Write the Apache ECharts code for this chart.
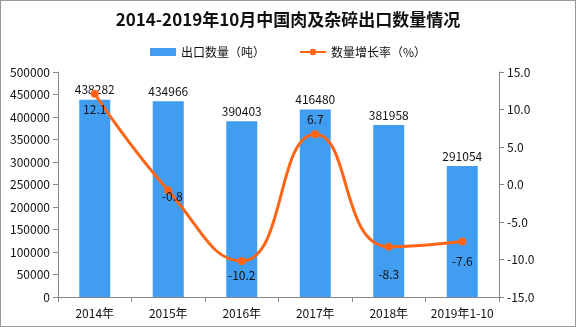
<!DOCTYPE html>
<html><head><meta charset="utf-8">
<script src="https://cdn.jsdelivr.net/npm/echarts@6/dist/echarts.min.js"></script>
<style>
html,body{margin:0;padding:0;background:#fff;}
#c{width:574px;height:325px;border:1px solid #999;}
</style></head>
<body><div id="c"></div>
<script>
const categories = ['2014年','2015年','2016年','2017年','2018年','2019年1-10'];
const exportQty = [438282, 434966, 390403, 416480, 381958, 291054];
const growthRate = [12.1, -0.8, -10.2, 6.7, -8.3, -7.6];
const labelPlacement = [
  {position:'bottom', distance:6},
  {position:'inside', offset:[4,6]},
  {position:'bottom', distance:4},
  {position:'top', distance:5},
  {position:'bottom', distance:18},
  {position:'bottom', distance:10}
];
const font = '"Noto Sans CJK SC", sans-serif';
const chart = echarts.init(document.getElementById('c'));
chart.setOption({
  animation:false,
  textStyle:{fontFamily:font},
  title:{text:'2014-2019年10月中国肉及杂碎出口数量情况', left:'center', top:5,
    textStyle:{fontSize:17, fontWeight:'bold', color:'#111', fontFamily:font}},
  legend:{top:40, left:'center', itemGap:34, itemWidth:26, itemHeight:8,
    textStyle:{fontSize:12, color:'#111'},
    data:[{name:'出口数量（吨）', icon:'rect'}, {name:'数量增长率（%）'}]},
  grid:{left:57, right:76, top:71, bottom:29},
  xAxis:{type:'category', data:categories,
    axisLine:{lineStyle:{color:'#888'}},
    axisTick:{show:true, alignWithLabel:false, lineStyle:{color:'#888'}},
    axisLabel:{color:'#111', fontSize:12, margin:10, interval:0}},
  yAxis:[
    {type:'value', min:0, max:500000, interval:50000,
     axisLine:{show:true, lineStyle:{color:'#888'}},
     axisTick:{show:true, lineStyle:{color:'#888'}},
     splitLine:{show:false},
     axisLabel:{color:'#111', fontSize:12, formatter:v=>String(v)}},
    {type:'value', min:-15, max:15, interval:5,
     axisLine:{show:true, lineStyle:{color:'#888'}},
     axisTick:{show:true, lineStyle:{color:'#888'}},
     splitLine:{show:false},
     axisLabel:{color:'#111', fontSize:12, formatter:v=>v.toFixed(1)}}
  ],
  series:[
    {name:'出口数量（吨）', type:'bar', data:exportQty, barWidth:31,
     itemStyle:{color:'#419DF0'},
     label:{show:true, position:'top', color:'#111', fontSize:12, distance:4}},
    {name:'数量增长率（%）', type:'line', yAxisIndex:1, smooth:0.5,
     data:growthRate.map((v,i)=>({value:v, label:labelPlacement[i]})),
     symbol:'circle', symbolSize:8,
     lineStyle:{color:'#FF6417', width:3},
     itemStyle:{color:'#FF6417'},
     label:{show:true, color:'#111', fontSize:12, formatter:p=>p.value.toFixed(1)}}
  ]
});
</script></body></html>
